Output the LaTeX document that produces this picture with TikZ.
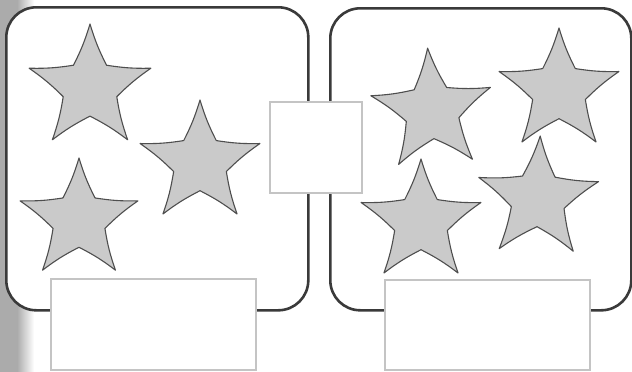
\documentclass[tikz,border=0pt]{standalone}
\definecolor{framec}{HTML}{3A3A3A}
\definecolor{boxc}{HTML}{C4C4C4}
\definecolor{starc}{HTML}{CACACA}
\definecolor{stripc}{HTML}{ABABAB}
\tikzset{
  panel/.style={draw=framec, line width=2.6pt, rounded corners=30pt, fill=white},
  answerbox/.style={draw=boxc, line width=1.6pt, fill=white},
  starpath/.style={draw=framec!90, fill=starc, line width=1.1pt, line join=round},
  eb/.style={bend right=5},
}
\newcommand\drawstar[5]{%
  \pgfmathsetmacro\rin{0.44*#3}%
  \begin{scope}[shift={(#1,#2)}, rotate=#4]
    \draw[starpath] (-90:#3) to[eb] (-54:\rin) to[eb] (-18:#3) to[eb] (18:\rin)
      to[eb] (54:#3) to[eb] (90:\rin) to[eb] (126:#3) to[eb] (162:\rin)
      to[eb] (198:#3) to[eb] (234:\rin) to[eb] (270:#3) -- cycle;
  \end{scope}}
\begin{document}
\begin{tikzpicture}[x=1pt,y=-1pt]
  \useasboundingbox (0,0) rectangle (632,372);
  \fill[white] (0,0) rectangle (632,372);
  % left gray strip
  \fill[stripc] (0,0) rectangle (17,372);
  \shade[left color=stripc, right color=white] (17,0) rectangle (34,372);
  % panels
  \node[panel, minimum width=302pt, minimum height=303pt, anchor=north west, inner sep=0pt] (lp) at (5,6) {};
  \node[panel, minimum width=301pt, minimum height=302pt, anchor=north west, inner sep=0pt] (rp) at (329,7) {};
  % stars left
  \drawstar{90}{88}{64}{0}{}
  \drawstar{200}{163}{63}{0}{}
  \drawstar{79}{220}{62}{0}{}
  % stars right
  \drawstar{432}{111}{63}{4}{}
  \drawstar{559}{91}{63}{0}{}
  \drawstar{421}{222}{63}{0}{}
  \drawstar{538}{199}{63}{-2}{}
  % boxes
  \node[answerbox, minimum width=92pt, minimum height=91pt, anchor=north west, inner sep=0pt] (mid) at (269,101) {};
  \node[answerbox, minimum width=205pt, minimum height=91pt, anchor=north west, inner sep=0pt] (bl) at (50,278) {};
  \node[answerbox, minimum width=205pt, minimum height=90pt, anchor=north west, inner sep=0pt] (br) at (384,279) {};
\end{tikzpicture}
\end{document}
